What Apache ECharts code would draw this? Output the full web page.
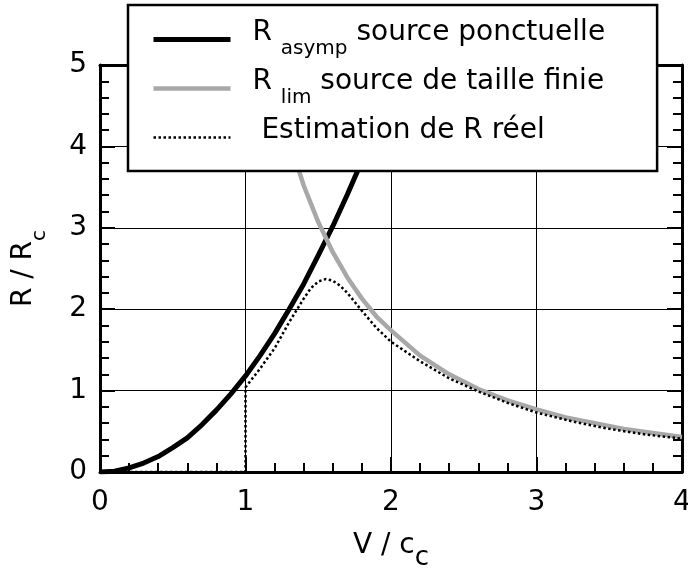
<!DOCTYPE html>
<html>
<head>
<meta charset="utf-8">
<script src="https://cdn.jsdelivr.net/npm/echarts@6/dist/echarts.min.js"></script>
<style>html,body{margin:0;padding:0;background:#fff}#c{width:688px;height:572px}</style>
</head>
<body>
<div id="c"></div>
<script>
// ---- data ----
const xTicks = [0, 1, 2, 3, 4];
const yTicks = [0, 1, 2, 3, 4, 5];

const seriesNames = ['asymp', 'lim', 'reel'];

const vAsymp = [0, 0.1, 0.2, 0.3, 0.4, 0.5, 0.6, 0.7, 0.8, 0.9, 1.0, 1.1, 1.2, 1.3, 1.4, 1.5, 1.6, 1.7, 1.8, 1.9, 2.0, 2.06];
const rAsymp = [0, 0.01, 0.05, 0.11, 0.19, 0.30, 0.42, 0.58, 0.76, 0.96, 1.18, 1.43, 1.70, 2.00, 2.31, 2.66, 3.02, 3.41, 3.82, 4.26, 4.72, 5.0];

const vLim = [1.17, 1.2, 1.3, 1.4, 1.5, 1.6, 1.7, 1.8, 1.9, 2.0, 2.2, 2.4, 2.6, 2.8, 3.0, 3.2, 3.4, 3.6, 3.8, 4.0];
const rLim = [5.0, 4.79, 4.08, 3.52, 3.07, 2.70, 2.39, 2.13, 1.91, 1.74, 1.43, 1.20, 1.02, 0.88, 0.77, 0.67, 0.60, 0.53, 0.48, 0.43];

const vReel = [0, 1.0, 1.0, 1.1, 1.2, 1.3, 1.4, 1.45, 1.5, 1.55, 1.6, 1.65, 1.7, 1.8, 1.9, 2.0, 2.2, 2.4, 2.6, 2.8, 3.0, 3.25, 3.5, 3.75, 4.0];
const rReel = [0, 0, 1.04, 1.27, 1.52, 1.84, 2.13, 2.26, 2.34, 2.37, 2.35, 2.29, 2.20, 1.98, 1.77, 1.60, 1.36, 1.15, 0.99, 0.85, 0.73, 0.62, 0.53, 0.46, 0.41];

const FONT = "'DejaVu Sans', 'Liberation Sans', Arial, sans-serif";
const pairs = (xs, ys) => xs.map((x, i) => [x, ys[i]]);

const legendRich = {
  f: { fontSize: 28, fontFamily: FONT, color: '#000', lineHeight: 30, verticalAlign: 'top', padding: [0, 0, 0, 17] },
  m: { fontSize: 28, fontFamily: FONT, color: '#000', lineHeight: 30, verticalAlign: 'top' },
  s: { fontSize: 20, fontFamily: FONT, color: '#000', lineHeight: 20, verticalAlign: 'top', padding: [20, 0, 12, 0] },
  z: { fontSize: 8, fontFamily: FONT, color: '#000', lineHeight: 11 }
};

const titleRich = {
  m: { fontSize: 28, fontFamily: FONT, color: '#000', lineHeight: 30, verticalAlign: 'top' },
  s: { fontSize: 20, fontFamily: FONT, color: '#000', lineHeight: 20, verticalAlign: 'top', padding: [20, 0, 0, 0] },
  u: { fontSize: 26, fontFamily: FONT, color: '#000', lineHeight: 26, verticalAlign: 'top', padding: [13, 0, 0, 0] }
};

const legendLabels = {
  asymp: '{f|R }{s|asymp}{m| source ponctuelle}\n{z| }',
  lim: '{f|R }{s|lim}{m| source de taille finie}\n{z| }',
  reel: '{f| Estimation de R réel}{s| }\n{z| }'
};

const axisCommon = {
  type: 'value',
  axisLine: { show: true, onZero: false, lineStyle: { color: '#000', width: 3 } },
  axisTick: { show: true, inside: true, length: 15, lineStyle: { color: '#000', width: 2 } },
  minorTick: { show: true, splitNumber: 5, length: 9, lineStyle: { color: '#000', width: 2 } },
  splitLine: { show: false }
};

const option = {
  backgroundColor: '#fff',
  animation: false,
  grid: { left: 100, right: 6, top: 65, bottom: 100, containLabel: false, outerBoundsMode: 'none' },
  legend: {
    orient: 'vertical',
    left: 128, top: 5,
    padding: [14, 52, 2, 23],
    itemWidth: 77, itemHeight: 20, itemGap: -3,
    backgroundColor: '#fff',
    borderColor: '#000', borderWidth: 2.5, borderRadius: 0,
    lineStyle: { width: 'inherit' },
    itemStyle: { opacity: 0 },
    data: seriesNames,
    formatter: name => legendLabels[name],
    textStyle: { rich: legendRich, fontSize: 28, fontFamily: FONT }
  },
  xAxis: [
    Object.assign({}, axisCommon, {
      position: 'bottom', min: 0, max: 4, interval: 1,
      axisLabel: { show: true, margin: 17, fontSize: 28, fontFamily: FONT, color: '#000',
        formatter: v => xTicks.includes(v) ? String(v) : '' },
      splitLine: { show: true, lineStyle: { color: '#000', width: 1 } },
      name: '{m|V / c}{u|c}',
      nameLocation: 'middle', nameGap: 60,
      nameTextStyle: { rich: titleRich }
    }),
    Object.assign({}, axisCommon, {
      position: 'top', min: 0, max: 4, interval: 1,
      axisLabel: { show: false }
    })
  ],
  yAxis: [
    Object.assign({}, axisCommon, {
      position: 'left', min: 0, max: 5, interval: 1,
      axisLabel: { show: true, margin: 13, fontSize: 28, fontFamily: FONT, color: '#000',
        formatter: v => yTicks.includes(v) ? String(v) : '' },
      splitLine: { show: true, lineStyle: { color: '#000', width: 1 } },
      name: '{m|R / R}{s|c}',
      nameLocation: 'middle', nameGap: 60, nameRotate: 90,
      nameTextStyle: { rich: titleRich }
    }),
    Object.assign({}, axisCommon, {
      position: 'right', min: 0, max: 5, interval: 1,
      axisLabel: { show: false }
    })
  ],
  series: [
    {
      name: 'asymp', type: 'line', data: pairs(vAsymp, rAsymp),
      symbol: 'none', smooth: false, clip: true,
      lineStyle: { color: '#000', width: 5 }, itemStyle: { color: '#000' }
    },
    {
      name: 'lim', type: 'line', data: pairs(vLim, rLim),
      symbol: 'none', smooth: false, clip: true,
      lineStyle: { color: '#a8a8a8', width: 4.5 }, itemStyle: { color: '#a8a8a8' }
    },
    {
      name: 'reel', type: 'line', data: pairs(vReel, rReel),
      symbol: 'none', smooth: false, clip: true,
      lineStyle: { color: '#000', width: 2.5, type: [2.5, 2.5] }, itemStyle: { color: '#000' }
    }
  ]
};

const chart = echarts.init(document.getElementById('c'), null, { renderer: 'canvas' });
chart.setOption(option);
</script>
</body>
</html>
